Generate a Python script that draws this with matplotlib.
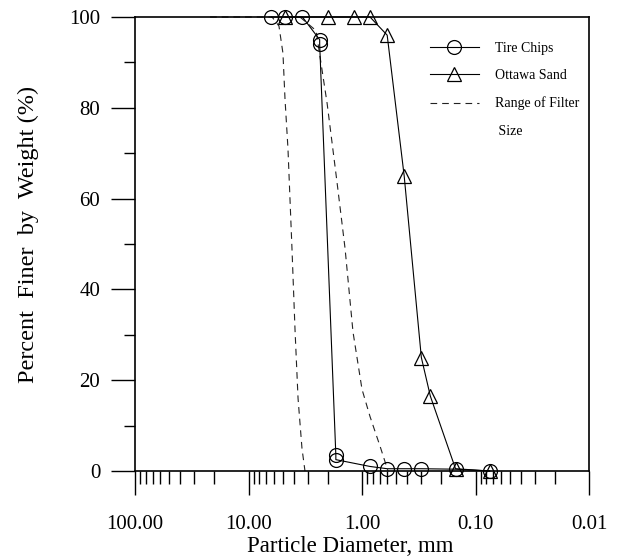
import matplotlib
matplotlib.use("Agg")
import matplotlib.pyplot as plt
from matplotlib.lines import Line2D

plt.rcParams['font.family'] = ['Liberation Serif', 'DejaVu Serif']
plt.rcParams['lines.scale_dashes'] = False

# Data (particle diameter in mm, percent finer by weight)
tire_d = [6.3, 4.75, 3.35, 2.36, 2.36, 1.7, 1.7, 0.85, 0.6, 0.425, 0.3, 0.15, 0.075]
tire_p = [100, 100, 100, 95, 94, 3.5, 2.5, 1.0, 0.5, 0.5, 0.5, 0.4, 0.0]

sand_d = [4.75, 2.0, 1.18, 0.85, 0.6, 0.425, 0.3, 0.25, 0.15, 0.075]
sand_p = [100, 100, 100, 100, 96, 65, 25, 16.5, 0.5, 0.0]

filt_coarse_d = [21.8, 6.2, 5.39, 4.97, 4.77, 4.49, 4.14, 3.89, 3.66, 3.38, 3.18]
filt_coarse_p = [100, 100, 98, 92, 82, 71, 49, 31, 16, 5, 0]

filt_fine_d = [3.52, 2.54, 2.03, 1.66, 1.41, 1.20, 1.00, 0.85, 0.69, 0.59]
filt_fine_p = [100, 97, 81, 63.6, 49, 30.6, 18, 12, 5.3, 0]

xticks = [100, 10, 1, 0.1, 0.01]
xtick_labels = ["100.00", "10.00", "1.00", "0.10", "0.01"]
yticks = [0, 20, 40, 60, 80, 100]
yminor = [10, 30, 50, 70, 90]

fig = plt.figure(figsize=(6.22, 5.6), dpi=100)
ax = fig.add_axes([135/622, 1-471/560, (589-135)/622, (471-17)/560])

dash = (0, (4.8, 3.6))
ax.plot(filt_coarse_d, filt_coarse_p, color='#222222', lw=0.8, linestyle=dash, clip_on=False)
ax.plot(filt_fine_d, filt_fine_p, color='#222222', lw=0.8, linestyle=dash, clip_on=False)
ax.plot(tire_d, tire_p, color='black', lw=0.8, marker='o', ms=10, mfc='none', mec='black', mew=0.9, clip_on=False)
ax.plot(sand_d, sand_p, color='black', lw=0.8, marker='^', ms=10.5, mfc='none', mec='black', mew=0.9, clip_on=False)

ax.set_xscale('log')
ax.set_xlim(100, 0.01)
ax.set_ylim(0, 100)
ax.set_xticks(xticks)
ax.set_xticklabels(xtick_labels)
ax.set_yticks(yticks)
ax.set_yticks(yminor, minor=True)

for s in ax.spines.values():
    s.set_linewidth(1.2)

ax.tick_params(axis='x', which='major', direction='out', length=17, width=1.0, labelsize=15, pad=15)
ax.tick_params(axis='x', which='minor', direction='out', length=9, width=1.0)
ax.tick_params(axis='y', which='major', direction='out', length=17, width=1.0, labelsize=15, pad=8)
ax.tick_params(axis='y', which='minor', direction='out', length=8, width=1.0)

ax.set_xlabel("Particle Diameter, mm", fontsize=16.5)
ax.xaxis.set_label_coords((350-135)/454, -(536-471)/454)
ax.set_ylabel("Percent  Finer  by  Weight (%)", fontsize=17.5)
ax.yaxis.set_label_coords(-(135-39)/454, 0.52)

handles = [
    Line2D([], [], color='black', lw=0.8, marker='o', ms=10, mfc='none', mec='black', mew=0.9),
    Line2D([], [], color='black', lw=0.8, marker='^', ms=10.5, mfc='none', mec='black', mew=0.9),
    Line2D([], [], color='#222222', lw=0.8, linestyle=dash),
    Line2D([], [], linestyle='none'),
]
labels = ["Tire Chips", "Ottawa Sand", "Range of Filter", " Size"]
ax.legend(handles, labels, loc='upper left', bbox_to_anchor=(430/622, 1-42/560),
          bbox_transform=fig.transFigure, frameon=False, fontsize=10,
          handlelength=3.5, handletextpad=1.15, labelspacing=1.03,
          borderpad=0, borderaxespad=0)

fig.savefig("out.png", dpi=100)
